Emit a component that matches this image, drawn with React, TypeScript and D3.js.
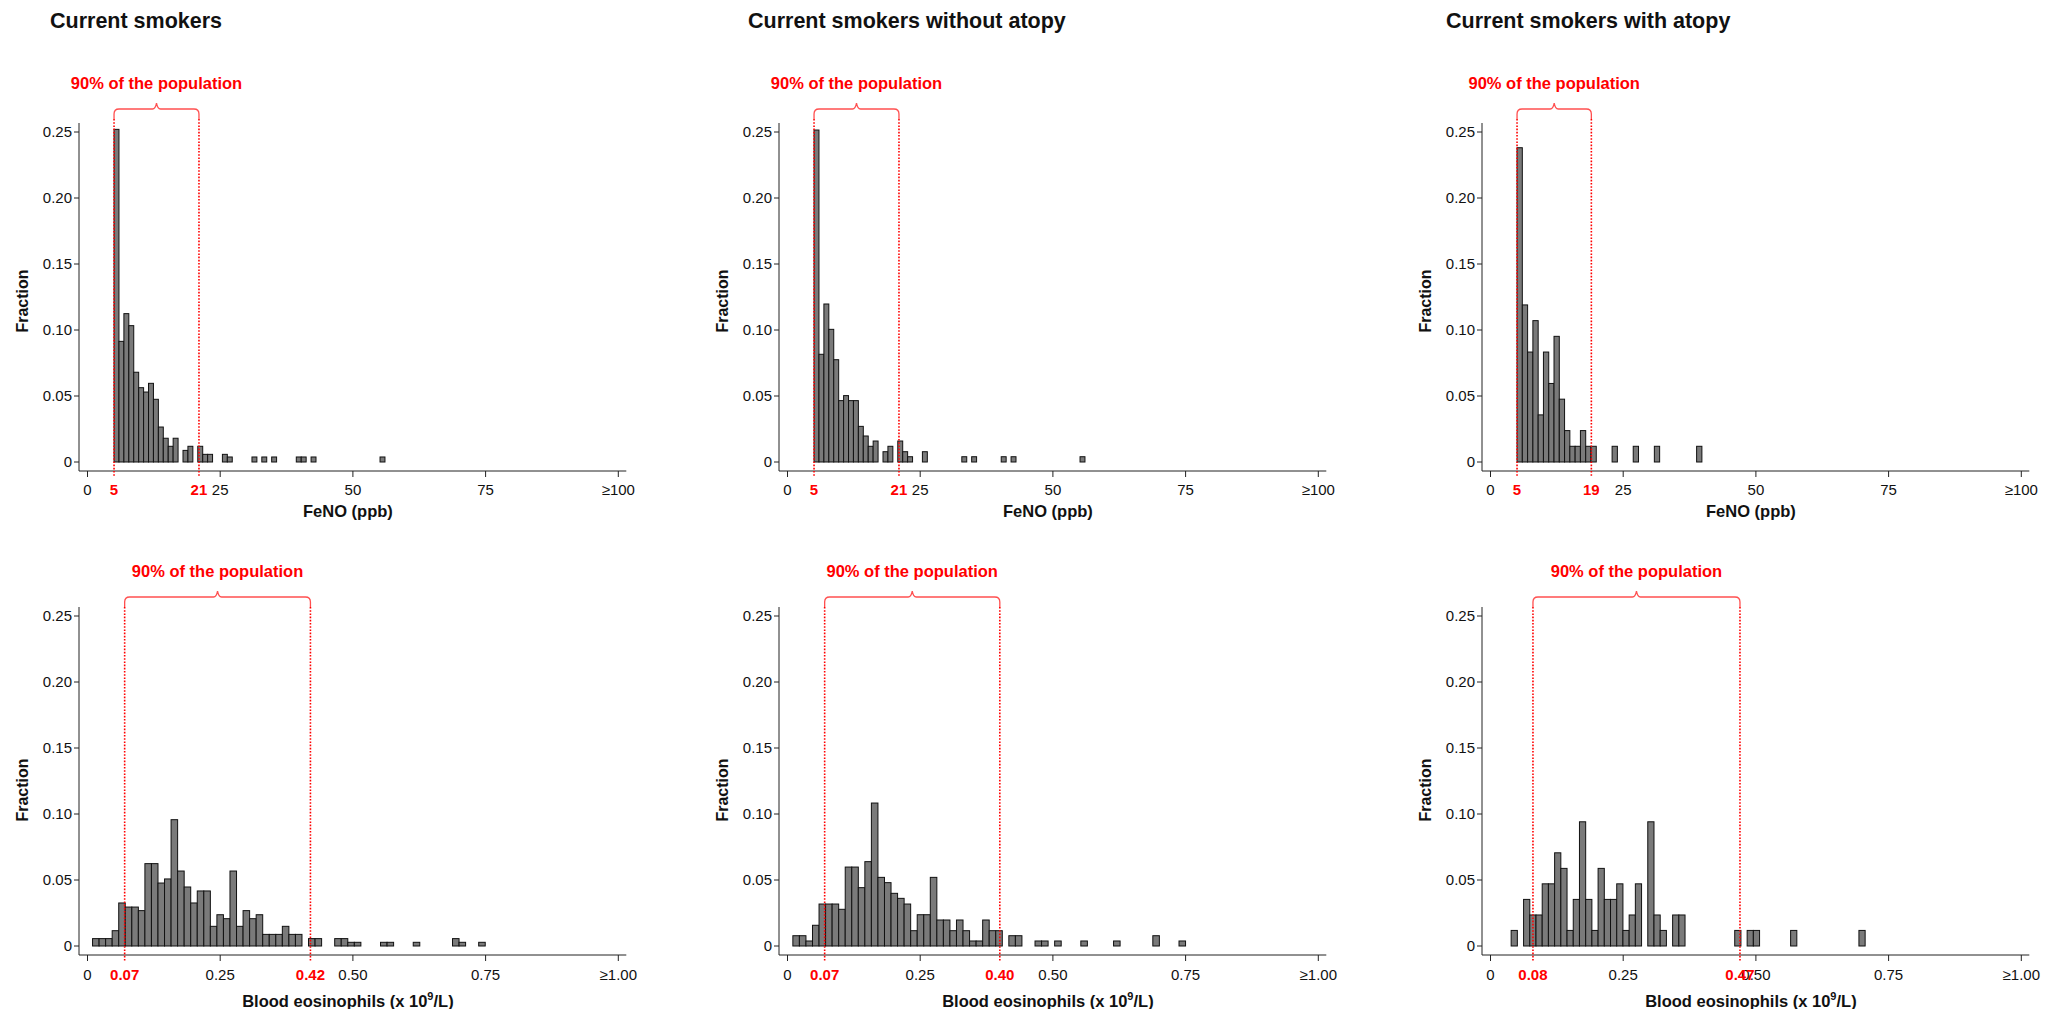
import React from "react";
import * as d3 from "d3";

const W = 2065;
const H = 1009;
const FONT = "'Liberation Sans', Arial, Helvetica, sans-serif";

const panelTitles = ["Current smokers", "Current smokers without atopy", "Current smokers with atopy"];

// FeNO histograms (fraction per bin), bins start at fenoBinStart with width fenoBinWidth
const fenoBinStart = [5, 5, 5];
const fenoBinWidth = [0.928, 0.928, 0.995];
const fenoAll = [
  0.252, 0.0914, 0.1124, 0.1033, 0.068, 0.0563, 0.053, 0.0596, 0.0475, 0.0265,
  0.018, 0.0119, 0.018, 0, 0.0088, 0.0119, 0, 0.0119, 0.0058, 0.0058,
  0, 0, 0.0058, 0.0038, 0, 0, 0, 0, 0.0038, 0,
  0.0038, 0, 0.0038, 0, 0, 0, 0, 0.0038, 0.0038, 0,
  0.0038, 0, 0, 0, 0, 0, 0, 0, 0, 0,
  0, 0, 0, 0, 0.0038,
];
const fenoNoAtopy = [
  0.2515, 0.0816, 0.1197, 0.1005, 0.0775, 0.0465, 0.0503, 0.0465, 0.0465, 0.027,
  0.0197, 0.0119, 0.0159, 0, 0.0078, 0.0119, 0, 0.0159, 0.0078, 0.004,
  0, 0, 0.0078, 0, 0, 0, 0, 0, 0, 0,
  0.004, 0, 0.004, 0, 0, 0, 0, 0, 0.004, 0,
  0.004, 0, 0, 0, 0, 0, 0, 0, 0, 0,
  0, 0, 0, 0, 0.004,
];
const fenoAtopy = [
  0.2381, 0.119, 0.0833, 0.1071, 0.0357, 0.0833, 0.0595, 0.0952, 0.0476, 0.0238,
  0.0119, 0.0119, 0.0238, 0.0119, 0.0119, 0, 0, 0, 0.0119, 0,
  0, 0, 0.0119, 0, 0, 0, 0.0119, 0, 0, 0,
  0, 0, 0, 0, 0.0119,
];
const fenoCutLow = [5, 5, 5];
const fenoCutHigh = [21, 21, 19];
const fenoTicks = [0, 25, 50, 75, 100];
const fenoTickLabels = ["0", "25", "50", "75", "\u2265100"];

// Blood eosinophil histograms
const eosBinStart = [0.0095, 0.0101, 0.0389];
const eosBinWidth = [0.01233, 0.01233, 0.0117];
const eosAll = [
  0.0056, 0.0056, 0.0056, 0.0116, 0.0326, 0.0295, 0.0295, 0.0268, 0.0624, 0.0624,
  0.0477, 0.0508, 0.0957, 0.0568, 0.0447, 0.0326, 0.0417, 0.0417, 0.0149, 0.0237,
  0.0207, 0.0568, 0.0149, 0.0268, 0.0207, 0.0237, 0.0088, 0.0088, 0.0088, 0.0149,
  0.0088, 0.0088, 0, 0.0056, 0.0056, 0, 0, 0.0056, 0.0056, 0.0028,
  0.0028, 0, 0, 0, 0.0028, 0.0028, 0, 0, 0, 0.0028,
  0, 0, 0, 0, 0, 0.0056, 0.0028, 0, 0, 0.0028,
];
const eosNoAtopy = [
  0.0078, 0.0078, 0.0038, 0.0157, 0.0318, 0.0318, 0.0318, 0.0278, 0.0598, 0.0598,
  0.0442, 0.0639, 0.1083, 0.052, 0.048, 0.0399, 0.0361, 0.0318, 0.0116, 0.0237,
  0.0237, 0.052, 0.0197, 0.0197, 0.0116, 0.0197, 0.0116, 0.0038, 0.0038, 0.0197,
  0.0116, 0.0116, 0, 0.0078, 0.0078, 0, 0, 0.0038, 0.0038, 0,
  0.0038, 0, 0, 0, 0.0038, 0, 0, 0, 0, 0.0038,
  0, 0, 0, 0, 0, 0.0078, 0, 0, 0, 0.0038,
];
const eosAtopy = [
  0.0118, 0, 0.0353, 0.0235, 0.0235, 0.0471, 0.0471, 0.0706, 0.0588, 0.0118,
  0.0353, 0.0941, 0.0353, 0.0118, 0.0588, 0.0353, 0.0353, 0.0471, 0.0118, 0.0235,
  0.0471, 0, 0.0941, 0.0235, 0.0118, 0, 0.0235, 0.0235, 0, 0,
  0, 0, 0, 0, 0, 0, 0.0118, 0, 0.0118, 0.0118,
  0, 0, 0, 0, 0, 0.0118, 0, 0, 0, 0,
  0, 0, 0, 0, 0, 0, 0.0118,
];
const eosCutLow = [0.07, 0.07, 0.08];
const eosCutHigh = [0.42, 0.4, 0.47];
const eosTicks = [0, 0.25, 0.5, 0.75, 1.0];
const eosTickLabels = ["0", "0.25", "0.50", "0.75", "\u22651.00"];

const yTicks = [0, 0.05, 0.1, 0.15, 0.2, 0.25];
const yTickLabels = ["0", "0.05", "0.10", "0.15", "0.20", "0.25"];

// layout
const colX0 = [87.5, 787.5, 1490.5];
const titleX = [50, 748, 1446];
const rowBaseline = [462, 946];
const rowAnnotBase = [89, 577];
const rowYLabelCenter = [301, 790];
const rowTickLabelDy = [33, 34];
const rowXTitleDy = [55, 61];
const xSpan = 530.8;
const ySpan = 330;

const BAR_FILL = "#7a7a7a";
const RED = "#ff0000";

type PanelProps = {
  x0: number;
  baseline: number;
  annotY: number;
  yLabelCenter: number;
  tickLabelDy: number;
  xTitleDy: number;
  values: number[];
  binStart: number;
  binWidth: number;
  xMax: number;
  ticks: number[];
  tickLabels: string[];
  cutLow: number;
  cutHigh: number;
  cutFmt: (v: number) => string;
  xTitle: React.ReactNode;
};

function bracePath(x1: number, x2: number, yH: number, yPeak: number, yEnd: number) {
  const xm = (x1 + x2) / 2;
  const r = 5;
  return `M${x1},${yEnd} L${x1},${yH + r} Q${x1},${yH} ${x1 + r},${yH} L${xm - 4},${yH} Q${xm - 1},${yH} ${xm},${yPeak} Q${xm + 1},${yH} ${xm + 4},${yH} L${x2 - r},${yH} Q${x2},${yH} ${x2},${yH + r} L${x2},${yEnd}`;
}

function Panel(p: PanelProps) {
  const x = d3.scaleLinear().domain([0, p.xMax]).range([p.x0, p.x0 + xSpan]);
  const y = d3.scaleLinear().domain([0, 0.25]).range([p.baseline, p.baseline - ySpan]);
  const axisX = p.x0 - 8.5;
  const axisY = p.baseline + 9;
  const yTop = y(0.25) - 9;
  const xl = x(p.cutLow);
  const xh = x(p.cutHigh);
  const braceH = p.annotY + 20;
  const bracePeak = p.annotY + 14;
  const braceEnd = p.annotY + 30;
  const labelY = p.baseline + p.tickLabelDy;
  return (
    <g>
      {p.values.map((v, i) =>
        v > 0 ? (
          <rect
            key={i}
            x={x(p.binStart + i * p.binWidth)}
            y={y(v)}
            width={x(p.binWidth) - x(0)}
            height={y(0) - y(v)}
            fill={BAR_FILL}
            stroke="#111"
            strokeWidth={1}
          />
        ) : null
      )}
      <line x1={axisX} x2={axisX} y1={yTop} y2={axisY} stroke="#222" strokeWidth={1} />
      <line x1={axisX} x2={x(p.xMax) + 8} y1={axisY} y2={axisY} stroke="#222" strokeWidth={1} />
      {yTicks.map((t, i) => (
        <g key={i}>
          <line x1={axisX - 5} x2={axisX} y1={y(t)} y2={y(t)} stroke="#222" strokeWidth={1} />
          <text x={axisX - 7} y={y(t)} dy="0.36em" textAnchor="end" fontSize={15} fontFamily={FONT} fill="#111">
            {yTickLabels[i]}
          </text>
        </g>
      ))}
      <text
        transform={`translate(${axisX - 57},${p.yLabelCenter}) rotate(-90)`}
        dy="0.36em"
        textAnchor="middle"
        fontSize={16}
        fontWeight="bold"
        fontFamily={FONT}
        fill="#111"
      >
        Fraction
      </text>
      {p.ticks.map((t, i) => (
        <g key={i}>
          <line x1={x(t)} x2={x(t)} y1={axisY} y2={axisY + 6} stroke="#222" strokeWidth={1} />
          <text x={x(t)} y={labelY} textAnchor="middle" fontSize={15} fontFamily={FONT} fill="#111">
            {p.tickLabels[i]}
          </text>
        </g>
      ))}
      {[xl, xh].map((xx, i) => (
        <line key={i} x1={xx} x2={xx} y1={braceEnd} y2={axisY + 6} stroke={RED} strokeWidth={1.6} strokeDasharray="1.6,1.6" />
      ))}
      {[p.cutLow, p.cutHigh].map((c, i) => (
        <text key={i} x={x(c)} y={labelY} textAnchor="middle" fontSize={15} fontWeight="bold" fontFamily={FONT} fill={RED}>
          {p.cutFmt(c)}
        </text>
      ))}
      <path d={bracePath(xl, xh, braceH, bracePeak, braceEnd)} fill="none" stroke="#ff5050" strokeWidth={1.3} />
      <text x={(xl + xh) / 2} y={p.annotY} textAnchor="middle" fontSize={16.5} fontWeight="bold" fontFamily={FONT} fill={RED}>
        90% of the population
      </text>
      <text x={x(p.xMax / 2) - 5} y={p.baseline + p.xTitleDy} textAnchor="middle" fontSize={16.5} fontWeight="bold" fontFamily={FONT} fill="#111">
        {p.xTitle}
      </text>
    </g>
  );
}

export default function App() {
  const fenoSets = [fenoAll, fenoNoAtopy, fenoAtopy];
  const eosSets = [eosAll, eosNoAtopy, eosAtopy];
  const fmtInt = (v: number) => String(v);
  const fmt2 = d3.format(".2f");
  return (
    <svg
      width={W}
      height={H}
      viewBox={`0 0 ${W} ${H}`}
      style={{ position: "absolute", left: 0, top: 0, display: "block", background: "#fff" }}
    >
      <rect width={W} height={H} fill="#fff" />
      {panelTitles.map((t, c) => (
        <text key={c} x={titleX[c]} y={28} fontSize={21.5} fontWeight="bold" fontFamily={FONT} fill="#111">
          {t}
        </text>
      ))}
      {fenoSets.map((vals, c) => (
        <Panel
          key={"f" + c}
          x0={colX0[c]}
          baseline={rowBaseline[0]}
          annotY={rowAnnotBase[0]}
          yLabelCenter={rowYLabelCenter[0]}
          tickLabelDy={rowTickLabelDy[0]}
          xTitleDy={rowXTitleDy[0]}
          values={vals}
          binStart={fenoBinStart[c]}
          binWidth={fenoBinWidth[c]}
          xMax={100}
          ticks={fenoTicks}
          tickLabels={fenoTickLabels}
          cutLow={fenoCutLow[c]}
          cutHigh={fenoCutHigh[c]}
          cutFmt={fmtInt}
          xTitle="FeNO (ppb)"
        />
      ))}
      {eosSets.map((vals, c) => (
        <Panel
          key={"e" + c}
          x0={colX0[c]}
          baseline={rowBaseline[1]}
          annotY={rowAnnotBase[1]}
          yLabelCenter={rowYLabelCenter[1]}
          tickLabelDy={rowTickLabelDy[1]}
          xTitleDy={rowXTitleDy[1]}
          values={vals}
          binStart={eosBinStart[c]}
          binWidth={eosBinWidth[c]}
          xMax={1}
          ticks={eosTicks}
          tickLabels={eosTickLabels}
          cutLow={eosCutLow[c]}
          cutHigh={eosCutHigh[c]}
          cutFmt={fmt2}
          xTitle={
            <>
              Blood eosinophils (x 10
              <tspan fontSize={11} dy={-7}>9</tspan>
              <tspan dy={7}>/L)</tspan>
            </>
          }
        />
      ))}
    </svg>
  );
}
